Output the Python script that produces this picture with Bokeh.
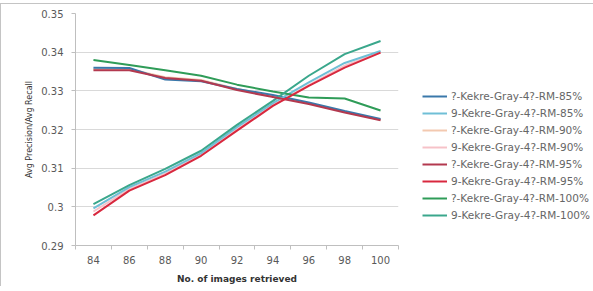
from bokeh.plotting import figure
from bokeh.models import FixedTicker, NumeralTickFormatter, Legend, LegendItem
from bokeh.embed import file_html
from bokeh.resources import INLINE

images = [84, 86, 88, 90, 92, 94, 96, 98, 100]
x_ticks = [84, 86, 88, 90, 92, 94, 96, 98, 100]
y_ticks = [0.29, 0.30, 0.31, 0.32, 0.33, 0.34, 0.35]

p85 = [0.3360, 0.3359, 0.3329, 0.3325, 0.3305, 0.3289, 0.3270, 0.3248, 0.3227]
r85 = [0.2996, 0.3051, 0.3091, 0.3139, 0.3206, 0.3268, 0.3322, 0.3372, 0.3403]
p90 = [0.3356, 0.3356, 0.3335, 0.3328, 0.3305, 0.3287, 0.3268, 0.3246, 0.3225]
r90 = [0.2988, 0.3046, 0.3086, 0.3135, 0.3200, 0.3263, 0.3315, 0.3365, 0.3400]
p95 = [0.3353, 0.3353, 0.3333, 0.3326, 0.3302, 0.3284, 0.3266, 0.3244, 0.3224]
r95 = [0.2978, 0.3042, 0.3082, 0.3132, 0.3197, 0.3261, 0.3313, 0.3360, 0.3399]
p100 = [0.3380, 0.3367, 0.3353, 0.3339, 0.3316, 0.3298, 0.3283, 0.3280, 0.3249]
r100 = [0.3007, 0.3056, 0.3098, 0.3145, 0.3212, 0.3274, 0.3339, 0.3395, 0.3429]

labels = ["?-Kekre-Gray-4?-RM-85%", "9-Kekre-Gray-4?-RM-85%",
          "?-Kekre-Gray-4?-RM-90%", "9-Kekre-Gray-4?-RM-90%",
          "?-Kekre-Gray-4?-RM-95%", "9-Kekre-Gray-4?-RM-95%",
          "?-Kekre-Gray-4?-RM-100%", "9-Kekre-Gray-4?-RM-100%"]
series = [p85, r85, p90, r90, p95, r95, p100, r100]
colors = ["#3a78aa", "#6fbfd6", "#f3c9b0", "#f6c2c8",
          "#b3394f", "#d8283e", "#2f9c58", "#3aa78c"]

p = figure(frame_width=323, frame_height=232, output_backend="svg", toolbar_location=None,
           x_range=(83, 101), y_range=(0.29, 0.35),
           min_border_left=74, min_border_right=186,
           min_border_top=9, min_border_bottom=36)
p.outline_line_color = None
p.background_fill_color = "white"
p.border_fill_color = "white"
p.styles = {"border-top": "1px solid #c4c4c4", "border-left": "1px solid #c4c4c4",
            "margin-top": "3px"}

renderers = {}
draw_order = [2, 3, 0, 1, 6, 7, 4, 5]
for i in draw_order:
    r = p.line(images, series[i], line_color=colors[i], line_width=2)
    renderers[i] = r

legend = Legend(items=[LegendItem(label=labels[i], renderers=[renderers[i]]) for i in range(8)],
                location=(24, 22))
legend.border_line_color = None
legend.background_fill_alpha = 0
legend.label_text_font = "DejaVu Sans"
legend.label_text_font_size = "10.5px"
legend.label_text_color = "#666666"
legend.glyph_width = 25
legend.glyph_height = 16
legend.label_height = 16
legend.spacing = 1
legend.padding = 0
legend.margin = 0
legend.label_standoff = 4
p.add_layout(legend, "right")

p.xaxis.ticker = FixedTicker(ticks=x_ticks, minor_ticks=[83, 85, 87, 89, 91, 93, 95, 97, 99, 101])
p.xaxis.major_tick_line_color = None
p.xaxis.minor_tick_out = 4
p.xaxis.minor_tick_in = 0
p.xaxis.minor_tick_line_color = "#bfbfbf"
p.xaxis.axis_line_color = "#bfbfbf"
p.xaxis.major_label_text_font = "DejaVu Sans"
p.xaxis.major_label_text_font_size = "10px"
p.xaxis.major_label_text_color = "#595959"
p.xaxis.major_label_standoff = 4
p.xaxis.axis_label = "No. of images retrieved"
p.xaxis.axis_label_text_font = "DejaVu Sans"
p.xaxis.axis_label_text_font_style = "bold"
p.xaxis.axis_label_text_font_size = "9px"
p.xaxis.axis_label_text_color = "#333333"
p.xaxis.axis_label_standoff = 7

p.yaxis.ticker = FixedTicker(ticks=y_ticks)
p.yaxis.formatter = NumeralTickFormatter(format="0.0[0]")
p.yaxis.minor_tick_line_color = None
p.yaxis.major_tick_out = 4
p.yaxis.major_tick_in = 0
p.yaxis.major_tick_line_color = "#bfbfbf"
p.yaxis.axis_line_color = "#bfbfbf"
p.yaxis.major_label_text_font = "DejaVu Sans"
p.yaxis.major_label_text_font_size = "10px"
p.yaxis.major_label_text_color = "#595959"
p.yaxis.major_label_standoff = 8
p.yaxis.axis_label = "Avg Precision/Avg Recall"
p.yaxis.axis_label_text_font = "DejaVu Sans"
p.yaxis.axis_label_text_font_style = "normal"
p.yaxis.axis_label_text_font_size = "8px"
p.yaxis.axis_label_text_color = "#333333"
p.yaxis.axis_label_standoff = 4

p.xgrid.grid_line_color = None
p.ygrid.grid_line_color = "#d9d9d9"
p.ygrid.grid_line_width = 1

open("out.html", "w").write(file_html(p, INLINE))
